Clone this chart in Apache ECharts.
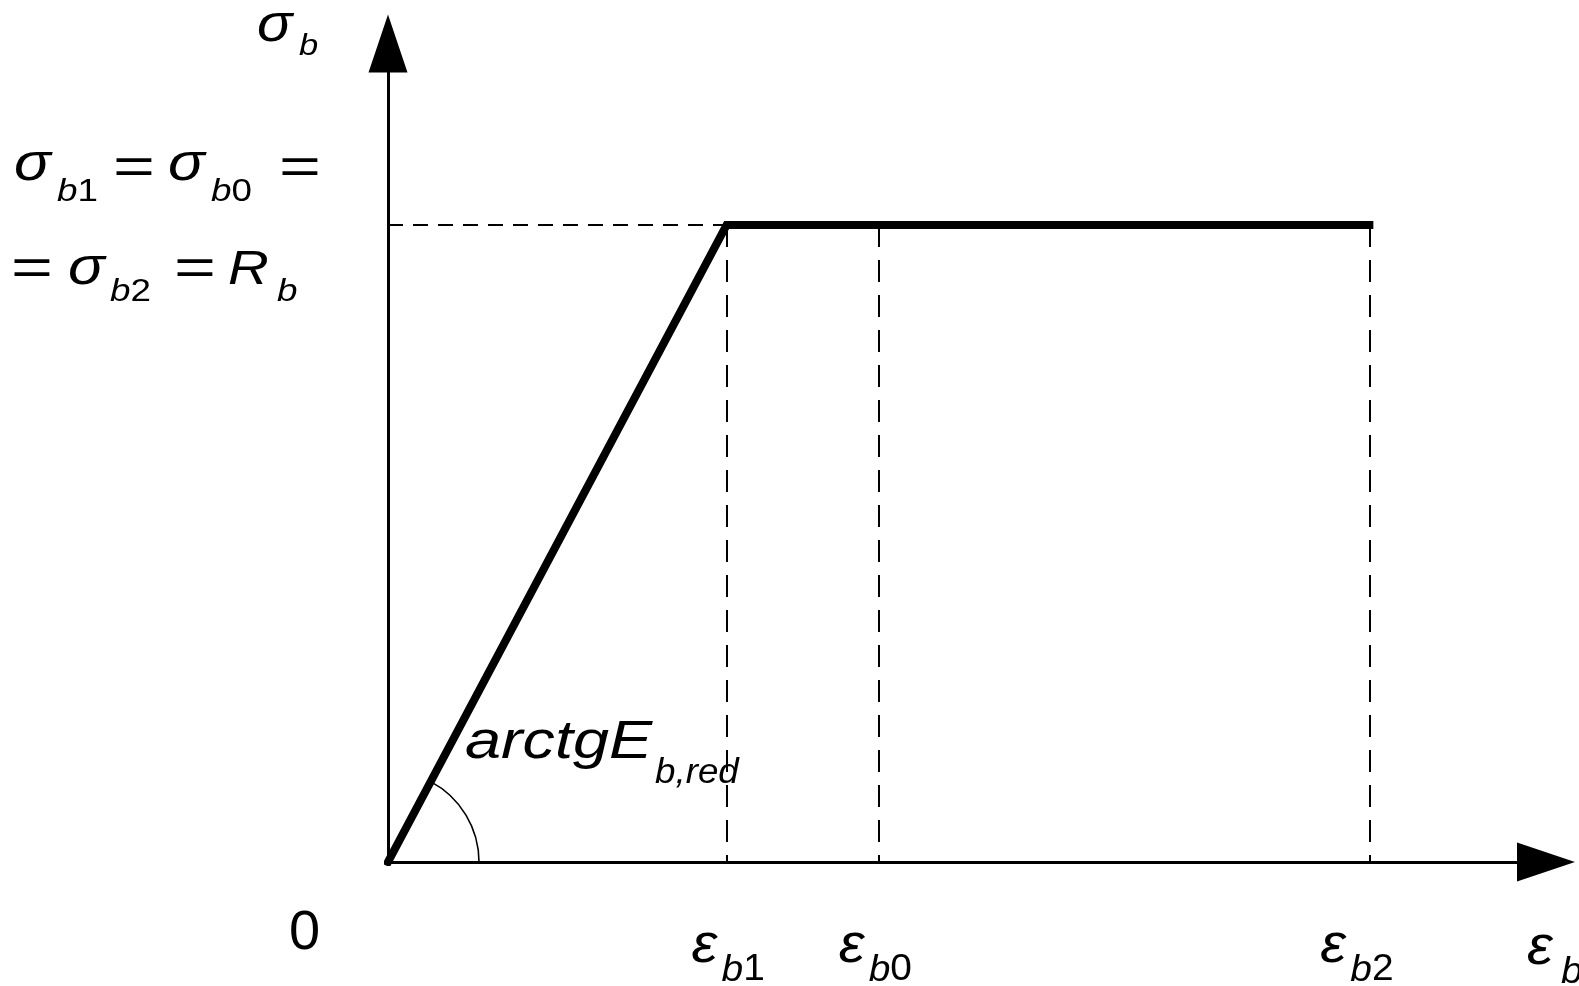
<!DOCTYPE html>
<html>
<head>
<meta charset="utf-8">
<script src="https://cdn.jsdelivr.net/npm/echarts@6/dist/echarts.min.js"></script>
<style>
  html, body { margin: 0; padding: 0; background: #ffffff; }
  #chart { width: 1579px; height: 986px; }
</style>
</head>
<body>
<div id="chart"></div>
<script>
// Two-segment (bilinear) stress–strain diagram of concrete, schematic units.
const strainPoints = [0, 1.38, 4.0];   // 0, εb1, εb2
const stressPoints = [0, 1, 1];        // 0, Rb, Rb
const epsB1 = 1.38;
const epsB0 = 2.0;
const epsB2 = 4.0;
const Rb = 1;
const xMax = 4.72;
const yMax = 1.285;
const strainMarks = [epsB1, epsB0, epsB2];
const strainMarkNames = [['ε', 'b', '1'], ['ε', 'b', '0'], ['ε', 'b', '2']];

const FONT = '"Liberation Sans", Arial, sans-serif';
const SX = 1.15;   // horizontal stretch of the formula glyphs
const chart = echarts.init(document.getElementById('chart'), null, { renderer: 'canvas' });

const diagram = strainPoints.map((e, i) => [e, stressPoints[i]]);

chart.setOption({
  animation: false,
  backgroundColor: '#ffffff',
  grid: { left: 388, right: 33, top: 43.5, bottom: 124, containLabel: false },
  xAxis: {
    type: 'value', min: 0, max: xMax,
    axisLine: { show: true, onZero: false, symbol: ['none', 'triangle'], symbolSize: [39, 58],
      lineStyle: { color: '#000', width: 3 } },
    axisTick: { show: false }, axisLabel: { show: false }, splitLine: { show: false }
  },
  yAxis: {
    type: 'value', min: 0, max: yMax,
    axisLine: { show: true, onZero: false, symbol: ['none', 'triangle'], symbolSize: [39, 58],
      lineStyle: { color: '#000', width: 3 } },
    axisTick: { show: false }, axisLabel: { show: false }, splitLine: { show: false }
  },
  series: [
    {
      name: 'guides', type: 'line', data: [], z: 1, silent: true,
      markLine: {
        silent: true, symbol: ['none', 'none'], label: { show: false },
        lineStyle: { color: '#000', width: 2, type: [22, 13] },
        data: [
          [{ coord: [0, Rb], lineStyle: { type: [15, 10] } }, { coord: [epsB1, Rb] }],
          [{ coord: [epsB1, Rb] }, { coord: [epsB1, 0] }],
          [{ coord: [epsB0, Rb] }, { coord: [epsB0, 0] }],
          [{ coord: [epsB2, Rb] }, { coord: [epsB2, 0] }]
        ]
      }
    },
    {
      name: 'σb(εb)', type: 'line', data: diagram, z: 5, silent: true,
      symbol: 'none',
      lineStyle: { color: '#000', width: 8, join: 'miter', cap: 'square' }
    }
  ]
});

// ---- formula-style labels (main glyph + subscript) ----
const meas = document.createElement('canvas').getContext('2d');
function textWidth(t, size, italic) {
  meas.font = (italic ? 'italic ' : '') + size + 'px ' + FONT;
  return meas.measureText(t).width;
}
function glyph(t, left, baseline, size, italic, sx) {
  return {
    type: 'text', silent: true, z: 10,
    x: left, y: baseline - 0.3465 * size, scaleX: sx, originX: 0, originY: 0,
    style: {
      text: t, fontSize: size, fontFamily: FONT, fontStyle: italic ? 'italic' : 'normal',
      fill: '#000', textAlign: 'left', align: 'left',
      textVerticalAlign: 'middle', verticalAlign: 'middle'
    }
  };
}
// parts: {t, size, it, shift, at, sx} — "at" forces an absolute left edge
function run(out, left, baseline, parts, sx) {
  let x = left;
  parts.forEach(p => {
    const s = p.sx || sx || SX;
    if (p.at != null) x = p.at;
    out.push(glyph(p.t, x, baseline + (p.shift || 0), p.size, p.it, s));
    x += textWidth(p.t, p.size, p.it) * s;
  });
}
// stretched equals sign centred at (cx, cy)
function equals(out, cx, cy) {
  out.push({
    type: 'text', silent: true, z: 10, x: cx, y: cy, scaleX: 1.38,
    style: { text: '=', fontSize: 52, fontFamily: FONT, fill: '#000',
      textAlign: 'center', align: 'center', textVerticalAlign: 'middle', verticalAlign: 'middle' }
  });
}
const main = (t, size) => ({ t, size, it: true });
const sub = (t, size, shift, at, upright, sx) => ({ t, size, it: !upright, shift, at, sx });

function drawLabels() {
  const g = [];
  const origin = chart.convertToPixel({ gridIndex: 0 }, [0, 0]);
  const knee = chart.convertToPixel({ gridIndex: 0 }, [epsB1, Rb]);
  const yTop = chart.convertToPixel({ gridIndex: 0 }, [0, yMax]);
  const xEnd = chart.convertToPixel({ gridIndex: 0 }, [xMax, 0]);

  // angle mark at the origin
  const theta = Math.atan2(origin[1] - knee[1], knee[0] - origin[0]);
  g.push({
    type: 'arc', silent: true, z: 6,
    shape: { cx: origin[0], cy: origin[1], r: 91, startAngle: -theta, endAngle: 0, clockwise: true },
    style: { stroke: '#000', lineWidth: 1.6, fill: null }
  });

  // vertical axis name σb
  run(g, yTop[0] - 131, yTop[1] + 1, [main('σ', 51), sub('b', 30, 13, yTop[0] - 89)]);

  // σb1 = σb0 =
  const l1 = yTop[1] + 140;
  run(g, 14, l1, [main('σ', 53), sub('b', 32, 20, 57), sub('1', 32, 20, null, true)]);
  equals(g, 134, l1 - 14);
  run(g, 168, l1, [main('σ', 53), sub('b', 32, 20, 211), sub('0', 32, 20, null, true)]);
  equals(g, 300, l1 - 14);
  // = σb2 = Rb
  const l2 = l1 + 104;
  equals(g, 32, l2 - 17);
  run(g, 68, l2, [main('σ', 53), sub('b', 32, 16, 110), sub('2', 32, 16, null, true)]);
  equals(g, 195, l2 - 17);
  run(g, 228, l2, [main('R', 49), sub('b', 32, 16, 277)]);

  // origin label
  run(g, origin[0] - 99, origin[1] + 91, [{ t: '0', size: 56, it: false }], 1);

  // strain marks under the horizontal axis
  const nudge = [2, -3, -12];
  strainMarks.forEach((e, i) => {
    const px = chart.convertToPixel({ gridIndex: 0 }, [e, 0]);
    const [m, s1, s2] = strainMarkNames[i];
    const left = px[0] - 37 + nudge[i];
    run(g, left, px[1] + 104, [
      main(m, 54), sub(s1, 36, 17, left + 30), sub(s2, 36, 17, null, true)
    ], 1.08);
  });

  // horizontal axis name εb
  run(g, xEnd[0] - 19, xEnd[1] + 106, [main('ε', 54), sub('b', 36, 17, xEnd[0] + 15)], 1.08);

  // slope annotation
  run(g, origin[0] + 77, origin[1] - 100, [
    main('arctgE', 54), sub('b,red', 35, 23, origin[0] + 267, false, 1.05)
  ], 1.2);

  chart.setOption({ graphic: { elements: g } });
}
drawLabels();
</script>
</body>
</html>
